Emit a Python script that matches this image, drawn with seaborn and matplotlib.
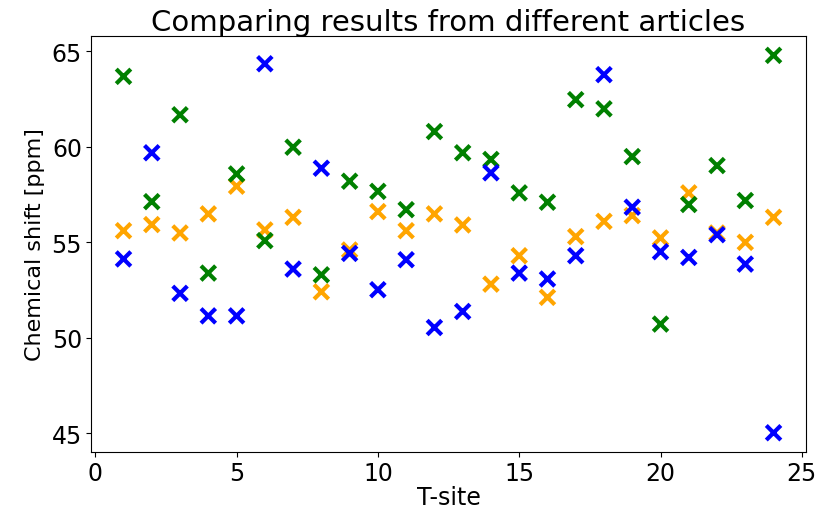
import matplotlib
matplotlib.use("Agg")
import matplotlib.pyplot as plt
import seaborn as sns
import pandas as pd

t_sites = list(range(1, 25))

article_blue = [54.13, 59.69, 52.33, 51.15, 51.15, 64.35, 53.60, 58.88, 54.42, 52.52,
                54.09, 50.54, 51.38, 58.64, 53.39, 53.08, 54.30, 63.78, 56.84, 54.51,
                54.21, 55.40, 53.86, 45.03]
article_orange = [55.61, 55.93, 55.49, 56.49, 57.94, 55.65, 56.31, 52.41, 54.60, 56.61,
                  55.61, 56.49, 55.91, 52.81, 54.30, 52.12, 55.30, 56.10, 56.40, 55.23,
                  57.59, 55.49, 55.00, 56.31]
article_green = [63.69, 57.13, 61.68, 53.39, 58.58, 55.09, 59.98, 53.30, 58.20, 57.67,
                 56.71, 60.80, 59.69, 59.34, 57.59, 57.10, 62.47, 61.99, 59.49, 50.72,
                 56.98, 59.02, 57.19, 64.79]

series_names = ["Article 2", "Article 3", "Article 1"]
series_values = [article_orange, article_green, article_blue]
series_colors = {"Article 1": "blue", "Article 2": "orange", "Article 3": "green"}

frames = []
for name, vals in zip(series_names, series_values):
    frames.append(pd.DataFrame({"T-site": t_sites, "shift": vals, "source": name}))
df = pd.concat(frames, ignore_index=True)

plt.rcParams["font.family"] = ["DejaVu Sans"]
fig = plt.figure(figsize=(8.2, 5.1), dpi=100)
ax = fig.add_axes([0.111, 0.1125, 0.872, 0.814])

sns.scatterplot(data=df, x="T-site", y="shift", hue="source", palette=series_colors,
                marker="x", s=110, linewidth=3, legend=False, ax=ax)

ax.set_title("Comparing results from different articles", fontsize=21, pad=4)
ax.set_xlabel("T-site", fontsize=17, labelpad=0)
ax.set_ylabel("Chemical shift [ppm]", fontsize=16, labelpad=5)
ax.tick_params(axis="both", labelsize=17, pad=3)
ax.set_xticks([0, 5, 10, 15, 20, 25])
ax.set_yticks([45, 50, 55, 60, 65])

fig.savefig("out.png", dpi=100)
